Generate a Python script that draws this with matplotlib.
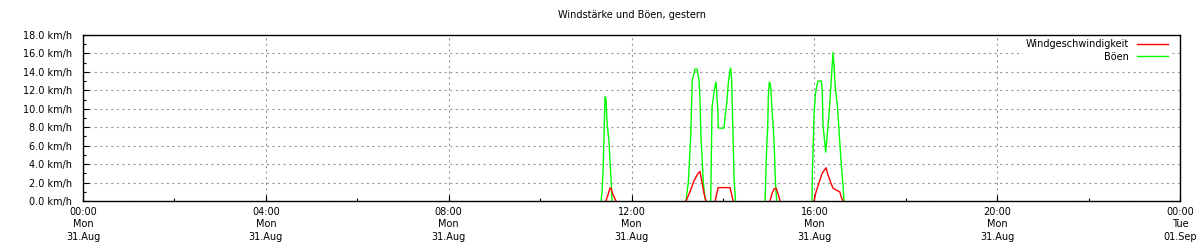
import matplotlib
matplotlib.use("Agg")
import matplotlib.pyplot as plt
from matplotlib.ticker import MultipleLocator, FixedLocator

# ---- data (minutes after midnight, km/h) ----
wind_t = [686.5, 689.2, 691.8, 693.1, 695.7, 699.7,
          791.6, 796.8, 802.1, 807.3, 809.9, 812.6, 815.2, 817.8,
          829.9, 831.9, 833.8, 849.3, 851.5, 853.3,
          901.8, 904.4, 907.1, 909.7, 912.3, 915.0,
          959.6, 962.3, 966.2, 970.2, 975.4, 978.1, 981.5, 984.5, 988.5, 993.4, 995.4, 997.7]
wind_v = [0, 0.7, 1.4, 1.4, 0.7, 0,
          0, 1.0, 2.2, 3.0, 3.2, 2.0, 0.8, 0,
          0, 0.8, 1.45, 1.45, 0.7, 0,
          0, 0.8, 1.3, 1.4, 0.8, 0,
          0, 1.0, 2.0, 3.0, 3.6, 2.8, 2.0, 1.4, 1.2, 1.0, 0.4, 0]

gust_t = [680.0, 681.3, 682.6, 683.9, 685.2, 686.5, 687.9, 690.5, 691.8, 693.1, 694.4,
          791.6, 792.9, 794.6, 797.7, 799.8, 803.4, 806.0, 808.6, 809.9, 811.2, 814.3, 816.5, 817.8,
          824.0, 825.7, 828.7, 830.9, 831.9, 833.2, 834.0, 834.9, 841.4, 842.7, 845.0, 847.1,
          849.3, 850.2, 851.5, 853.3, 854.6, 856.5,
          895.3, 895.9, 896.6, 897.5, 898.8, 899.6, 900.9, 901.8, 903.1, 904.4, 906.1, 907.4, 908.8, 910.6,
          957.0, 957.4, 958.3, 959.6, 961.3, 962.6, 964.8, 969.2, 970.5, 971.4, 973.6, 974.9, 976.6,
          978.9, 981.5, 983.2, 984.5, 985.8, 987.6, 990.2, 992.0, 993.7, 995.4, 997.7, 999.0]
gust_v = [0, 1.0, 3.0, 7.0, 11.3, 11.0, 8.5, 6.4, 4.2, 2.6, 0,
          0, 1.0, 2.0, 7.0, 13.1, 14.3, 14.3, 13.1, 11.0, 7.0, 2.0, 0.3, 0,
          0, 10.2, 12.0, 12.9, 11.7, 9.9, 8.0, 7.9, 7.9, 9.0, 10.6, 12.8,
          14.2, 14.4, 13.0, 7.0, 2.5, 0,
          0, 1.5, 3.7, 5.9, 8.0, 11.3, 12.9, 12.8, 12.0, 9.9, 7.9, 5.9, 2.3, 0,
          0, 3.0, 5.5, 9.3, 11.5, 12.2, 13.0, 13.0, 11.8, 8.2, 6.4, 5.3, 6.8,
          9.0, 12.2, 14.4, 16.1, 14.7, 12.2, 10.4, 8.2, 6.0, 3.9, 1.7, 0]

x_ticks_h = [0, 4, 8, 12, 16, 20, 24]
x_labels = ["00:00\nMon\n31.Aug", "04:00\nMon\n31.Aug", "08:00\nMon\n31.Aug",
            "12:00\nMon\n31.Aug", "16:00\nMon\n31.Aug", "20:00\nMon\n31.Aug",
            "00:00\nTue\n01.Sep"]
y_ticks = [0, 2, 4, 6, 8, 10, 12, 14, 16, 18]


def split_runs(ts, vs):
    """Split a series where two consecutive zero values follow each other
    (the flat zero stretch lies on the x axis and is hidden there)."""
    runs, cur_t, cur_v = [], [], []
    for i, (t, v) in enumerate(zip(ts, vs)):
        cur_t.append(t / 60.0)
        cur_v.append(v)
        if v == 0 and i + 1 < len(vs) and vs[i + 1] == 0 and len(cur_t) > 1:
            runs.append((cur_t, cur_v))
            cur_t, cur_v = [], []
    if cur_t:
        runs.append((cur_t, cur_v))
    return runs


plt.rcParams['font.family'] = ['DejaVu Sans']
fig = plt.figure(figsize=(12, 2.5), dpi=100)
ax = fig.add_axes([83/1200, 49/250, (1180-83)/1200, (201-35)/250])

for i, (tt, vv) in enumerate(split_runs(gust_t, gust_v)):
    ax.plot(tt, vv, color="#00ff00", lw=1.0, zorder=2, label="Böen" if i == 0 else None)
for i, (tt, vv) in enumerate(split_runs(wind_t, wind_v)):
    ax.plot(tt, vv, color="#ff0000", lw=1.0, zorder=3,
            label="Windgeschwindigkeit" if i == 0 else None)

ax.set_xlim(0, 24)
ax.set_ylim(0, 18)
ax.xaxis.set_major_locator(FixedLocator(x_ticks_h))
ax.xaxis.set_minor_locator(MultipleLocator(2))
ax.set_xticklabels(x_labels, fontsize=7, linespacing=1.35)
ax.yaxis.set_major_locator(FixedLocator(y_ticks))
ax.yaxis.set_minor_locator(MultipleLocator(1))
ax.set_yticklabels([f"{v:.1f} km/h" for v in y_ticks], fontsize=7)
ax.tick_params(which="both", direction="in", length=4, width=0.8)
ax.tick_params(which="minor", length=2)
ax.tick_params(axis="x", pad=4)
ax.tick_params(axis="y", pad=8)
ax.grid(True, which="major", color="#999999", linestyle=(0, (2, 3)), lw=0.8)
for s in ax.spines.values():
    s.set_linewidth(1.0)
    s.set_zorder(5)

ax.set_title("Windstärke und Böen, gestern", fontsize=7, pad=12)

handles, labels = ax.get_legend_handles_labels()
order = [labels.index("Windgeschwindigkeit"), labels.index("Böen")]
leg = ax.legend([handles[i] for i in order], [labels[i] for i in order],
                loc="upper right", fontsize=7, markerfirst=False, frameon=True,
                fancybox=False, handlelength=3.2, handletextpad=0.8,
                borderpad=0.3, labelspacing=0.25, bbox_to_anchor=(0.996, 1.02))
leg.get_frame().set_edgecolor("none")
leg.get_frame().set_facecolor("white")
leg.get_frame().set_alpha(1.0)
for t in leg.get_texts():
    t.set_ha("right")

fig.savefig("out.png", dpi=100)
